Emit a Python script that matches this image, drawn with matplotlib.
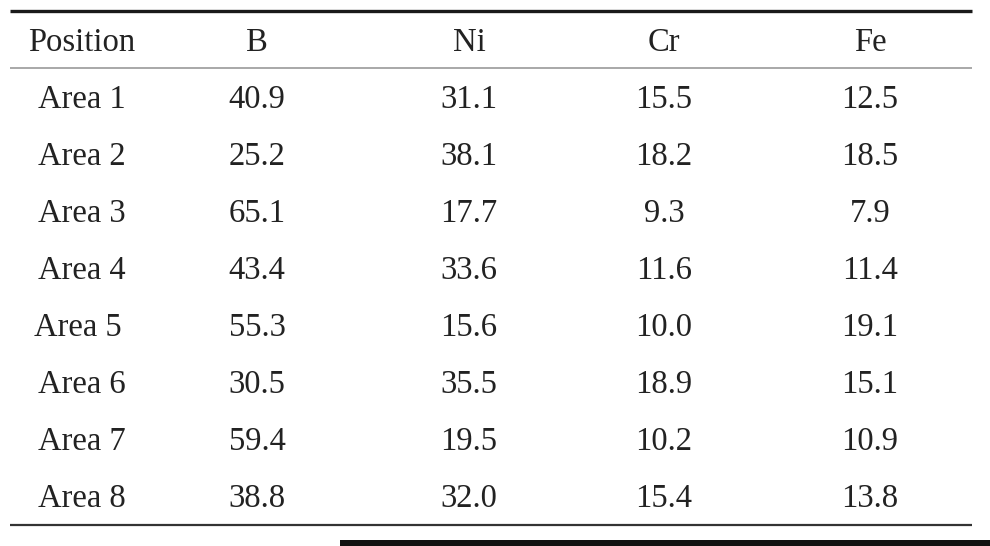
import matplotlib
matplotlib.use("Agg")
import matplotlib.pyplot as plt

headers = ["Position", "B", "Ni", "Cr", "Fe"]
positions = ["Area 1", "Area 2", "Area 3", "Area 4", "Area 5", "Area 6", "Area 7", "Area 8"]
B = [40.9, 25.2, 65.1, 43.4, 55.3, 30.5, 59.4, 38.8]
Ni = [31.1, 38.1, 17.7, 33.6, 15.6, 35.5, 19.5, 32.0]
Cr = [15.5, 18.2, 9.3, 11.6, 10.0, 18.9, 10.2, 15.4]
Fe = [12.5, 18.5, 7.9, 11.4, 19.1, 15.1, 10.9, 13.8]

W, H = 990, 546
fig = plt.figure(figsize=(W / 100, H / 100), dpi=100)
ax = fig.add_axes([0, 0, 1, 1])
ax.set_xlim(0, W)
ax.set_ylim(H, 0)
ax.axis("off")

font = dict(family=["Liberation Serif", "DejaVu Serif"], fontsize=23.5, color="#222222",
            ha="center", va="baseline")

col_x = [82, 257, 469, 664, 870]
header_y = 51
row_y0, row_dy = 108, 57

for x, h in zip(col_x, headers):
    ax.text(x, header_y, h, **font)

columns = [B, Ni, Cr, Fe]
for i, pos in enumerate(positions):
    y = row_y0 + i * row_dy
    ax.text(col_x[0] if pos != "Area 5" else 78, y, pos, **font)
    for j, col in enumerate(columns):
        ax.text(col_x[j + 1], y, f"{col[i]:.1f}", **font)

# rules
ax.plot([10, 972], [11, 11], color="#1a1a1a", lw=2.4, solid_capstyle="butt")
ax.plot([10, 972], [68, 68], color="#999999", lw=1.2, solid_capstyle="butt")
ax.plot([10, 972], [525, 525], color="#333333", lw=1.6, solid_capstyle="butt")
ax.add_patch(plt.Rectangle((340, 540), W - 340, 10, color="#111111", lw=0))

fig.savefig("out.png", dpi=100)
